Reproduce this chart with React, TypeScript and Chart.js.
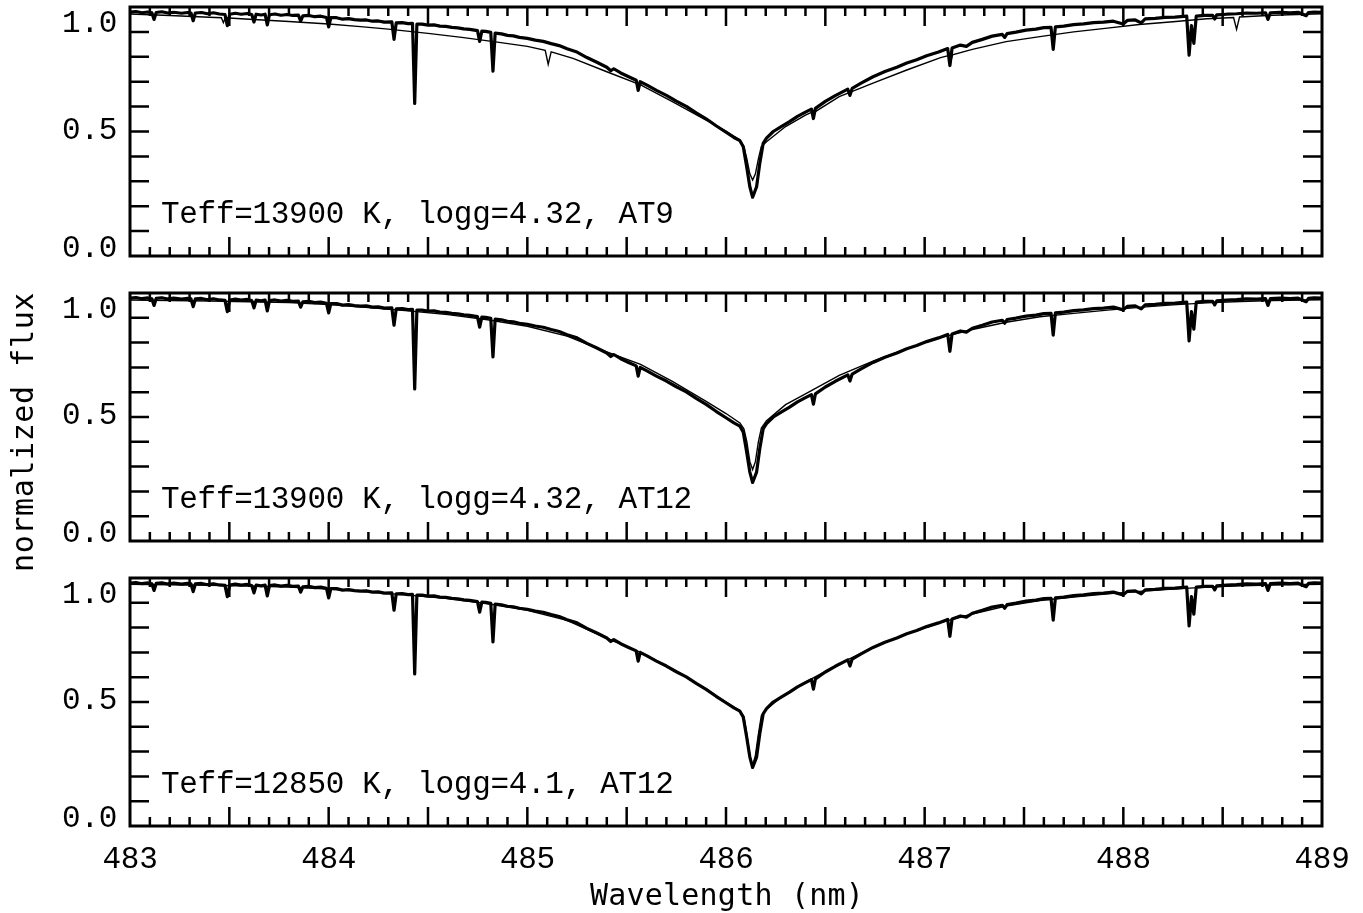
import { useEffect, useRef } from "react";
import { Chart, registerables } from "chart.js";

Chart.register(...registerables);

// Observed spectrum around H-beta: [wavelength (nm), normalized flux]
const observedSpectrum: [number, number][] = [
  [483.0, 0.979], [483.03, 0.982], [483.06, 0.977], [483.09, 0.98], [483.11, 0.977],
  [483.121, 0.95], [483.132, 0.978], [483.16, 0.981], [483.19, 0.976], [483.22, 0.979],
  [483.26, 0.975], [483.29, 0.978], [483.307, 0.976], [483.318, 0.945], [483.329, 0.976],
  [483.36, 0.978], [483.39, 0.973], [483.42, 0.977], [483.45, 0.972], [483.478, 0.97],
  [483.49, 0.925], [483.502, 0.971], [483.53, 0.975], [483.56, 0.971], [483.59, 0.974],
  [483.613, 0.97], [483.624, 0.94], [483.635, 0.971], [483.66, 0.968], [483.68, 0.971],
  [483.691, 0.928], [483.702, 0.969], [483.73, 0.972], [483.76, 0.967], [483.79, 0.97],
  [483.82, 0.966], [483.848, 0.967], [483.859, 0.943], [483.87, 0.964], [483.9, 0.966],
  [483.93, 0.961], [483.96, 0.963], [483.989, 0.958], [484.0, 0.92], [484.011, 0.957],
  [484.04, 0.957], [484.07, 0.951], [484.1, 0.953], [484.13, 0.949], [484.16, 0.947],
  [484.19, 0.948], [484.22, 0.943], [484.25, 0.944], [484.28, 0.939], [484.318, 0.94],
  [484.329, 0.87], [484.34, 0.936], [484.37, 0.937], [484.4, 0.933], [484.422, 0.934],
  [484.433, 0.613], [484.444, 0.931], [484.47, 0.931], [484.5, 0.927], [484.53, 0.928],
  [484.56, 0.923], [484.59, 0.922], [484.62, 0.918], [484.65, 0.916], [484.68, 0.912],
  [484.71, 0.91], [484.749, 0.905], [484.76, 0.862], [484.771, 0.903], [484.79, 0.902],
  [484.816, 0.898], [484.827, 0.742], [484.838, 0.895], [484.87, 0.892], [484.9, 0.886],
  [484.93, 0.884], [484.96, 0.878], [485.0, 0.874], [485.04, 0.867], [485.08, 0.862],
  [485.12, 0.853], [485.16, 0.845], [485.2, 0.832], [485.25, 0.819], [485.3, 0.797],
  [485.35, 0.778], [485.4, 0.758], [485.42, 0.744], [485.435, 0.752], [485.47, 0.735],
  [485.51, 0.72], [485.548, 0.706], [485.558, 0.665], [485.568, 0.7], [485.6, 0.687],
  [485.65, 0.665], [485.7, 0.645], [485.75, 0.622], [485.8, 0.601], [485.85, 0.575],
  [485.9, 0.551], [485.95, 0.523], [486.0, 0.497], [486.04, 0.476], [486.07, 0.463],
  [486.087, 0.439], [486.104, 0.359], [486.12, 0.278], [486.134, 0.236], [486.154, 0.278],
  [486.17, 0.372], [486.187, 0.452], [486.204, 0.473], [486.238, 0.5], [486.28, 0.521],
  [486.32, 0.54], [486.36, 0.561], [486.4, 0.578], [486.43, 0.59], [486.44, 0.552],
  [486.45, 0.593], [486.5, 0.621], [486.55, 0.644], [486.613, 0.67], [486.624, 0.645],
  [486.635, 0.673], [486.68, 0.694], [486.74, 0.72], [486.8, 0.741], [486.86, 0.758],
  [486.91, 0.775], [486.96, 0.788], [487.01, 0.804], [487.07, 0.819], [487.116, 0.833],
  [487.127, 0.765], [487.138, 0.835], [487.18, 0.847], [487.21, 0.842], [487.24, 0.858],
  [487.29, 0.87], [487.34, 0.883], [487.391, 0.89], [487.403, 0.878], [487.415, 0.893],
  [487.46, 0.899], [487.51, 0.907], [487.56, 0.911], [487.6, 0.917], [487.636, 0.918],
  [487.647, 0.83], [487.658, 0.92], [487.7, 0.923], [487.75, 0.929], [487.8, 0.932],
  [487.85, 0.937], [487.9, 0.939], [487.95, 0.943], [487.999, 0.932], [488.02, 0.946],
  [488.06, 0.948], [488.09, 0.936], [488.11, 0.952], [488.16, 0.954], [488.21, 0.958],
  [488.26, 0.959], [488.319, 0.963], [488.331, 0.807], [488.343, 0.925], [488.355, 0.854],
  [488.367, 0.963], [488.41, 0.966], [488.45, 0.966], [488.46, 0.952], [488.47, 0.968],
  [488.52, 0.971], [488.57, 0.973], [488.62, 0.976], [488.67, 0.975], [488.716, 0.977],
  [488.728, 0.95], [488.74, 0.977], [488.79, 0.979], [488.84, 0.977], [488.88, 0.979],
  [488.92, 0.965], [488.932, 0.978], [488.96, 0.98], [489.0, 0.979],
];

// Synthetic spectrum, Teff=13900 K, logg=4.32, ATLAS9
const modelAT9Hot: [number, number][] = [
  [483.0, 0.972], [483.2, 0.966], [483.4, 0.959], [483.46, 0.957], [483.47, 0.937],
  [483.48, 0.957], [483.6, 0.951], [483.8, 0.942], [484.0, 0.932], [484.16, 0.921],
  [484.3, 0.911], [484.5, 0.894], [484.67, 0.878], [484.84, 0.86], [485.0, 0.842],
  [485.09, 0.826], [485.105, 0.77], [485.12, 0.82], [485.23, 0.794], [485.4, 0.74],
  [485.57, 0.687], [485.73, 0.62], [485.9, 0.546], [486.0, 0.502], [486.07, 0.466],
  [486.09, 0.44], [486.105, 0.39], [486.12, 0.33], [486.134, 0.305], [486.148, 0.33],
  [486.163, 0.39], [486.178, 0.44], [486.204, 0.459], [486.3, 0.52], [486.4, 0.566],
  [486.43, 0.577], [486.44, 0.56], [486.45, 0.58], [486.57, 0.64], [486.74, 0.694],
  [486.91, 0.747], [487.08, 0.797], [487.12, 0.805], [487.13, 0.775], [487.14, 0.808],
  [487.24, 0.83], [487.41, 0.861], [487.58, 0.881], [487.75, 0.9], [487.92, 0.915],
  [488.08, 0.93], [488.25, 0.941], [488.42, 0.953], [488.555, 0.958], [488.57, 0.91],
  [488.585, 0.96], [488.75, 0.967], [489.0, 0.973],
];

// Synthetic spectrum, Teff=13900 K, logg=4.32, ATLAS12
const modelAT12Hot: [number, number][] = [
  [483.0, 0.972], [483.2, 0.97], [483.4, 0.968], [483.6, 0.965], [483.8, 0.961],
  [484.0, 0.953], [484.2, 0.941], [484.4, 0.928], [484.6, 0.913], [484.8, 0.892],
  [485.0, 0.866], [485.2, 0.826], [485.4, 0.762], [485.57, 0.712], [485.73, 0.644],
  [485.9, 0.563], [486.0, 0.514], [486.07, 0.476], [486.09, 0.452], [486.105, 0.4],
  [486.12, 0.32], [486.134, 0.288], [486.148, 0.32], [486.163, 0.4], [486.178, 0.455],
  [486.204, 0.485], [486.3, 0.55], [486.4, 0.593], [486.57, 0.668], [486.74, 0.725],
  [486.91, 0.776], [487.08, 0.82], [487.24, 0.853], [487.41, 0.882], [487.58, 0.904],
  [487.75, 0.918], [487.92, 0.931], [488.08, 0.942], [488.25, 0.952], [488.42, 0.96],
  [488.59, 0.966], [488.75, 0.97], [489.0, 0.973],
];

// Synthetic spectrum, Teff=12850 K, logg=4.1, ATLAS12
const modelAT12Cool: [number, number][] = [
  [483.0, 0.975], [483.2, 0.973], [483.4, 0.971], [483.6, 0.968], [483.8, 0.964],
  [484.0, 0.955], [484.2, 0.944], [484.4, 0.931], [484.6, 0.917], [484.8, 0.896],
  [485.0, 0.87], [485.2, 0.829], [485.4, 0.757], [485.57, 0.7], [485.73, 0.633],
  [485.9, 0.552], [486.0, 0.5], [486.07, 0.465], [486.09, 0.44], [486.105, 0.37],
  [486.12, 0.285], [486.134, 0.242], [486.148, 0.285], [486.163, 0.37], [486.178, 0.445],
  [486.204, 0.472], [486.3, 0.532], [486.4, 0.58], [486.57, 0.654], [486.74, 0.72],
  [486.91, 0.774], [487.08, 0.82], [487.24, 0.855], [487.41, 0.887], [487.58, 0.909],
  [487.75, 0.923], [487.92, 0.936], [488.08, 0.946], [488.25, 0.955], [488.42, 0.963],
  [488.59, 0.969], [488.75, 0.972], [489.0, 0.975],
];

const panelLabels = [
  "Teff=13900 K, logg=4.32, AT9",
  "Teff=13900 K, logg=4.32, AT12",
  "Teff=12850 K, logg=4.1, AT12",
];
const panelModels = [modelAT9Hot, modelAT12Hot, modelAT12Cool];

const xTickValues = [483, 484, 485, 486, 487, 488, 489];
const xTickLabels = ["483", "484", "485", "486", "487", "488", "489"];
const yTickValues = [0, 0.5, 1];
const yTickLabels = ["0.0", "0.5", "1.0"];
const xAxisTitle = "Wavelength (nm)";
const yAxisTitle = "normalized flux";

const X_MIN = 483;
const X_MAX = 489;

// Page and panel geometry (pixels)
const PAGE_W = 1363;
const PAGE_H = 913;
const PLOT_LEFT = 130;
const PLOT_RIGHT = 1322;
const PANEL_BOUNDS = [
  { top: 7, bottom: 256 },
  { top: 293, bottom: 541 },
  { top: 578, bottom: 826 },
];

const LABEL_FONT = "31px 'Liberation Mono', 'DejaVu Sans Mono', monospace";
const TITLE_FONT = "30px 'DejaVu Sans Mono', 'Liberation Mono', monospace";
// baseline shifts so the end labels sit inside the frame
const Y_LABEL_SHIFT = [1, 7, 25];

function setSpacing(ctx: CanvasRenderingContext2D, v: string) {
  (ctx as any).letterSpacing = v;
}

function makeDecor(index: number) {
  const isBottom = index === PANEL_BOUNDS.length - 1;
  const withYTitle = index === 1;
  return {
    id: "panelDecor" + index,
    afterDatasetsDraw(chart: any) {
      const { ctx, chartArea: a, scales } = chart;
      const xs = scales.x;
      const ys = scales.y;
      ctx.save();
      ctx.strokeStyle = "#000";
      ctx.fillStyle = "#000";
      ctx.lineCap = "butt";

      // inward ticks on all four sides
      ctx.lineWidth = 2.5;
      ctx.beginPath();
      for (let i = 1; i < 60; i++) {
        const px = xs.getPixelForValue(X_MIN + i / 10);
        const len = i % 5 === 0 ? 19 : 9;
        ctx.moveTo(px, a.bottom);
        ctx.lineTo(px, a.bottom - len);
        ctx.moveTo(px, a.top);
        ctx.lineTo(px, a.top + len);
      }
      for (let i = 1; i < 10; i++) {
        const py = ys.getPixelForValue(i / 10);
        ctx.moveTo(a.left, py);
        ctx.lineTo(a.left + 19, py);
        ctx.moveTo(a.right, py);
        ctx.lineTo(a.right - 19, py);
      }
      ctx.stroke();

      // frame
      ctx.lineWidth = 3;
      ctx.strokeRect(a.left, a.top, a.right - a.left, a.bottom - a.top);

      // y tick labels
      ctx.font = LABEL_FONT;
      setSpacing(ctx, "-0.3px");
      ctx.textAlign = "right";
      ctx.textBaseline = "alphabetic";
      yTickValues.forEach((v, k) => {
        ctx.fillText(yTickLabels[k], a.left - 13, ys.getPixelForValue(v) + Y_LABEL_SHIFT[k]);
      });

      // model label
      ctx.textAlign = "left";
      ctx.fillText(panelLabels[index], a.left + 31, ys.getPixelForValue(0) - 33);

      if (isBottom) {
        ctx.textAlign = "center";
        xTickValues.forEach((v, k) => {
          ctx.fillText(xTickLabels[k], xs.getPixelForValue(v), a.bottom + 42);
        });
        setSpacing(ctx, "0.2px");
        ctx.font = TITLE_FONT;
        ctx.fillText(xAxisTitle, (a.left + a.right) / 2 + 1, a.bottom + 79);
      }

      if (withYTitle) {
        setSpacing(ctx, "0.6px");
        ctx.font = TITLE_FONT;
        ctx.translate(33, 432);
        ctx.rotate(-Math.PI / 2);
        ctx.textAlign = "center";
        ctx.fillText(yAxisTitle, 0, 0);
      }
      setSpacing(ctx, "0px");
      ctx.restore();
    },
  };
}

function toPoints(arr: [number, number][]) {
  return arr.map(([x, y]) => ({ x, y }));
}

export default function App() {
  const r0 = useRef<HTMLCanvasElement>(null);
  const r1 = useRef<HTMLCanvasElement>(null);
  const r2 = useRef<HTMLCanvasElement>(null);
  const refs = [r0, r1, r2];

  useEffect(() => {
    const charts = PANEL_BOUNDS.map((b, i) => {
      const canvas = refs[i].current as HTMLCanvasElement;
      return new Chart(canvas, {
        type: "line",
        data: {
          datasets: [
            {
              data: toPoints(panelModels[i]),
              borderColor: "#000",
              borderWidth: 1.4,
              pointRadius: 0,
              tension: 0,
              order: 0,
            },
            {
              data: toPoints(observedSpectrum),
              borderColor: "#000",
              borderWidth: 3.2,
              borderJoinStyle: "round",
              pointRadius: 0,
              tension: 0,
              order: 1,
            },
          ],
        },
        options: {
          animation: false,
          responsive: false,
          events: [],
          layout: {
            padding: {
              left: PLOT_LEFT,
              right: PAGE_W - PLOT_RIGHT,
              top: b.top,
              bottom: PAGE_H - b.bottom,
            },
          },
          scales: {
            x: { type: "linear", min: X_MIN, max: X_MAX, display: false },
            y: { type: "linear", min: 0, max: 1, display: false },
          },
          plugins: {
            legend: { display: false },
            tooltip: { enabled: false },
          },
        },
        plugins: [makeDecor(i)],
      } as any);
    });
    return () => charts.forEach((c) => c.destroy());
  }, []);

  return (
    <div
      style={{
        position: "absolute",
        left: 0,
        top: 0,
        width: PAGE_W,
        height: PAGE_H,
        background: "#fff",
      }}
    >
      {refs.map((r, i) => (
        <canvas
          key={i}
          ref={r}
          width={PAGE_W}
          height={PAGE_H}
          style={{ position: "absolute", left: 0, top: 0 }}
        />
      ))}
    </div>
  );
}
